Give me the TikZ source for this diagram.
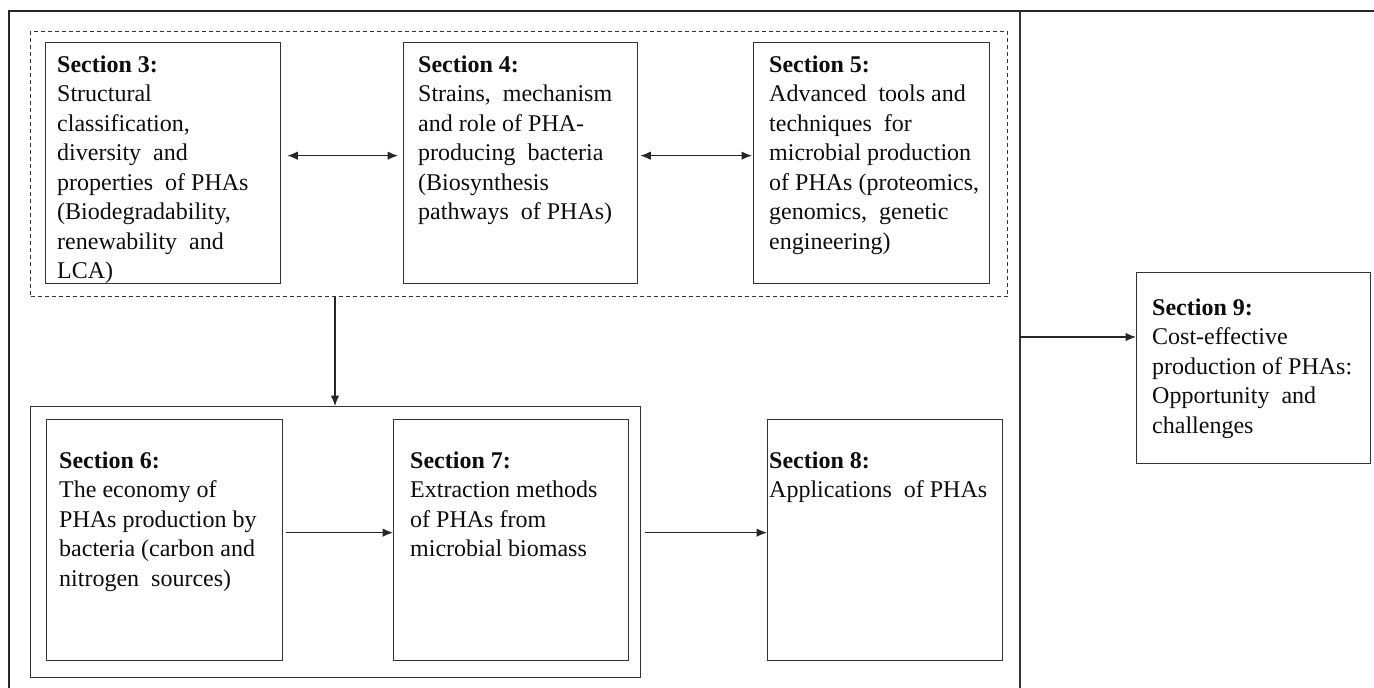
\documentclass[tikz,border=0pt]{standalone}
\usepackage{fontspec}
\setmainfont{Liberation Serif}
\usetikzlibrary{arrows.meta,calc}
\begin{document}
\begin{tikzpicture}[x=1pt,y=-1pt,
  box/.style={draw=black!80, line width=1.3pt, inner sep=0pt, anchor=north west},
  grpdash/.style={box, dash pattern=on 4pt off 3pt, line width=1pt},
  txt/.style={anchor=north west, inner sep=0pt, align=left, font=\fontsize{24}{29.5}\selectfont, text=black!95},
  arr/.style={draw=black!85, line width=1.2pt, -{Latex[length=10.5pt,width=8.5pt]}},
  darr/.style={draw=black!85, line width=1.2pt, {Latex[length=10.5pt,width=8.5pt]}-{Latex[length=10.5pt,width=8.5pt]}},
]
\useasboundingbox (0,0) rectangle (1374,688);
\fill[white] (0,0) rectangle (1374,688);
% outer frame
\draw[black!85, line width=2.6pt] (9,688) -- (9,11) -- (1374,11);
\draw[black!80, line width=1.3pt] (1020,11) -- (1020,688);
% groups
\node[grpdash, minimum width=977pt, minimum height=265pt] (g1) at (30,31) {};
\node[box, minimum width=610pt, minimum height=271pt] (g2) at (30,406) {};
% boxes
\node[box, minimum width=235pt, minimum height=241pt] (s3) at (45,42) {};
\node[box, minimum width=234pt, minimum height=241pt] (s4) at (403,42) {};
\node[box, minimum width=236pt, minimum height=241pt] (s5) at (753,42) {};
\node[box, minimum width=236pt, minimum height=241pt] (s6) at (46,419) {};
\node[box, minimum width=235pt, minimum height=241pt] (s7) at (393,419) {};
\node[box, minimum width=235pt, minimum height=241pt] (s8) at (767,419) {};
\node[box, minimum width=234pt, minimum height=191pt] (s9) at (1136,272) {};
% texts
\node[txt] (t3) at (57,55.5) {\textbf{Section 3:}\\Structural\\classification,\\diversity\ \ and\\properties\ \ of PHAs\\(Biodegradability,\\renewability\ \ and\\LCA)};
\node[txt] (t4) at (418,55.5) {\textbf{Section 4:}\\Strains,\ \ mechanism\\and role of PHA-\\producing\ \ bacteria\\(Biosynthesis\\pathways\ \ of PHAs)};
\node[txt] (t5) at (769,55.5) {\textbf{Section 5:}\\Advanced\ \ tools and\\techniques\ \ for\\microbial production\\of PHAs (proteomics,\\genomics,\ \ genetic\\engineering)};
\node[txt] (t6) at (59,451.5) {\textbf{Section 6:}\\The economy of\\PHAs production by\\bacteria (carbon and\\nitrogen\ \ sources)};
\node[txt] (t7) at (410,451.5) {\textbf{Section 7:}\\Extraction methods\\of PHAs from\\microbial biomass};
\node[txt] (t8) at (769,451.5) {\textbf{Section 8:}\\Applications\ \ of PHAs};
\node[txt] (t9) at (1152,298.5) {\textbf{Section 9:}\\Cost-effective\\production of PHAs:\\Opportunity\ \ and\\challenges};
% connectors
\draw[darr, shorten <=6pt, shorten >=5pt] ([yshift=7.5pt]s3.east) -- ([yshift=7.5pt]s4.west);
\draw[darr, shorten <=2pt, shorten >=1pt] ([yshift=7.5pt]s4.east) -- ([yshift=7.5pt]s5.west);
\draw[arr] ([xshift=305pt]g1.south west) -- ([xshift=305pt]g2.north west);
\draw[arr, shorten <=3pt] ([yshift=7.5pt]s6.east) -- ([yshift=7.5pt]s7.west);
\draw[arr, shorten <=4pt] ([yshift=9.5pt]g2.east) -- ([yshift=7.5pt]s8.west);
\coordinate (div) at (1020,337);
\draw[arr] (div) -- (div -| s9.west);
\end{tikzpicture}
\end{document}
